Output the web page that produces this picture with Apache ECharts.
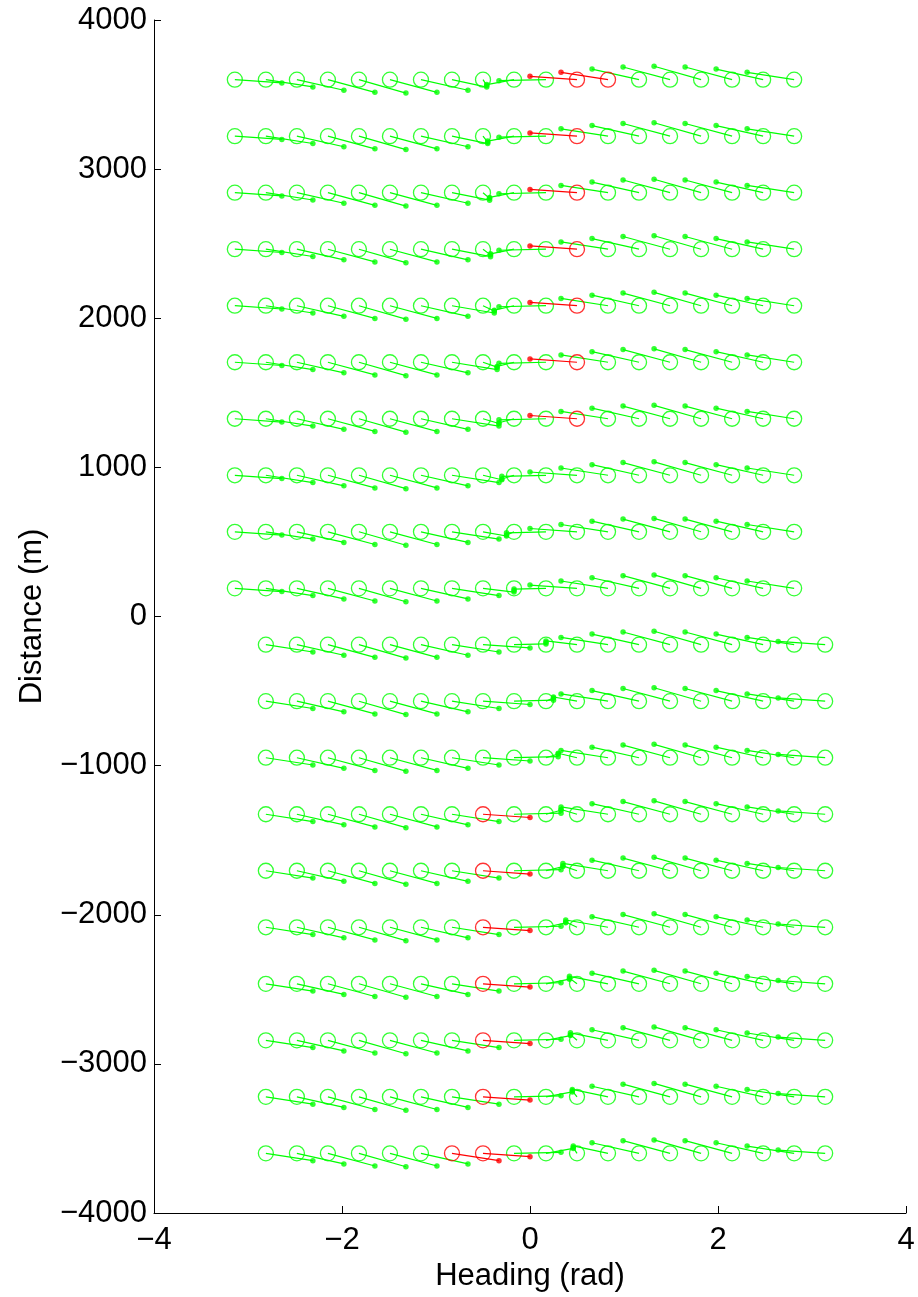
<!DOCTYPE html>
<html>
<head>
<meta charset="utf-8">
<script src="https://cdn.jsdelivr.net/npm/echarts@6/dist/echarts.min.js"></script>
<style>
html,body{margin:0;padding:0;background:#fff;}
#chart{width:918px;height:1297px;}
</style>
</head>
<body>
<div id="chart"></div>
<script>
// Circle positions (heading, rad) for rows with positive / negative distance
const headingTop = [-3.14, -2.81, -2.48, -2.15, -1.82, -1.49, -1.16, -0.83, -0.50, -0.17, 0.17, 0.50, 0.83, 1.16, 1.49, 1.82, 2.15, 2.48, 2.81];
const headingBottom = [-2.81, -2.48, -2.15, -1.82, -1.49, -1.16, -0.83, -0.50, -0.17, 0.17, 0.50, 0.83, 1.16, 1.49, 1.82, 2.15, 2.48, 2.81, 3.14];
// Row distances (m)
const distanceTop = [3600, 3221, 2842, 2463, 2084, 1705, 1326, 947, 568, 189];
const distanceBottom = [-189, -568, -947, -1326, -1705, -2084, -2463, -2842, -3221, -3600];

// Per-column heading change (rad) and distance change (m) of the dot; null = per-row value below
const turnTop  = [0.5, 0.5, 0.5, 0.5, 0.5, 0.5, 0.5, null, null, null, null, -0.5, -0.5, -0.5, -0.5, -0.5, -0.5, -0.5, -0.5];
const driftTop = [-22, -49, -71, -85, -90, -85, -71, null, null, null, null, 22, 49, 71, 85, 90, 85, 71, 49];
const turnBottom  = [0.5, 0.5, 0.5, 0.5, 0.5, 0.5, 0.5, 0.5, null, null, null, null, -0.5, -0.5, -0.5, -0.5, -0.5, -0.5, -0.5];
const driftBottom = [-49, -71, -85, -90, -85, -71, -49, -22, null, null, null, null, 71, 85, 90, 85, 71, 49, 22];

// Central columns (top: columns 7..10, bottom: columns 8..11), per row: [turn, drift]
const centerTop = [
  [[0.37, -50], [0.04, -40], [-0.29, -33], [-0.50, -7]],
  [[0.38, -50], [0.05, -40], [-0.28, -33], [-0.50, -7]],
  [[0.40, -50], [0.07, -38], [-0.26, -32], [-0.50, -7]],
  [[0.41, -50], [0.08, -38], [-0.25, -31], [-0.50, -7]],
  [[0.45, -49], [0.12, -35], [-0.21, -30], [-0.50, -7]],
  [[0.48, -49], [0.15, -33], [-0.18, -28], [-0.50, -7]],
  [[0.50, -49], [0.17, -32], [-0.16, -27], [-0.50, -7]],
  [[0.50, -49], [0.20, -30], [-0.13, -25], [-0.47, -7]],
  [[0.50, -49], [0.25, -28], [-0.08, -22], [-0.42, -7]],
  [[0.50, -49], [0.33, -25], [0.00, -15], [-0.34, -5]]
];
const centerBottom = [
  [[0.34, 5], [0.00, 15], [-0.33, 25], [-0.50, 49]],
  [[0.42, 7], [0.08, 22], [-0.25, 28], [-0.50, 49]],
  [[0.47, 7], [0.13, 25], [-0.20, 30], [-0.50, 49]],
  [[0.50, 7], [0.16, 27], [-0.17, 32], [-0.50, 49]],
  [[0.50, 7], [0.18, 28], [-0.15, 33], [-0.48, 49]],
  [[0.50, 7], [0.21, 30], [-0.12, 35], [-0.45, 49]],
  [[0.50, 7], [0.25, 31], [-0.08, 38], [-0.41, 50]],
  [[0.50, 7], [0.26, 32], [-0.07, 38], [-0.40, 50]],
  [[0.50, 7], [0.28, 33], [-0.05, 40], [-0.38, 50]],
  [[0.50, 7], [0.29, 33], [-0.04, 40], [-0.37, 50]]
];

// Highlighted (red) markers: [rowIndex, columnIndex]
const redTop = [[0, 11], [0, 12], [1, 11], [2, 11], [3, 11], [4, 11], [5, 11], [6, 11]];
const redBottom = [[3, 7], [4, 7], [5, 7], [6, 7], [7, 7], [8, 7], [9, 6], [9, 7]];

// Axis ticks
const xTicks = [-4, -2, 0, 2, 4];
const yTicks = [-4000, -3000, -2000, -1000, 0, 1000, 2000, 3000, 4000];

const GREEN = '#00ff00', RED = '#ff0000';
const gLines = [], gDots = [], gCircles = [], rLines = [], rDots = [], rCircles = [];

function isRed(list, r, c) {
  return list.some(p => p[0] === r && p[1] === c);
}
function addHalf(headings, distances, turn, drift, center, centerStart, redList) {
  distances.forEach((d, r) => {
    headings.forEach((h, c) => {
      let dh = turn[c], dd = drift[c];
      if (dh === null) {
        const p = center[r][c - centerStart];
        dh = p[0]; dd = p[1];
      }
      const end = [h + dh, d + dd];
      const red = isRed(redList, r, c);
      (red ? rLines : gLines).push({coords: [[h, d], end]});
      (red ? rDots : gDots).push(end);
      (red ? rCircles : gCircles).push([h, d]);
    });
  });
}
addHalf(headingTop, distanceTop, turnTop, driftTop, centerTop, 7, redTop);
addHalf(headingBottom, distanceBottom, turnBottom, driftBottom, centerBottom, 8, redBottom);

const FONT = "'Liberation Sans', Arial, Helvetica, sans-serif";
const minus = v => String(v).replace('-', '\u2212');

const chart = echarts.init(document.getElementById('chart'), null, {renderer: 'canvas'});
chart.setOption({
  animation: false,
  backgroundColor: '#ffffff',
  grid: {left: 154, right: 12, top: 20, bottom: 84, containLabel: false, outerBoundsMode: 'none'},
  xAxis: {
    type: 'value', min: xTicks[0], max: xTicks[xTicks.length - 1], interval: 2,
    name: 'Heading (rad)', nameLocation: 'middle', nameGap: 42,
    nameTextStyle: {fontFamily: FONT, fontSize: 31, color: '#000'},
    axisLine: {show: true, onZero: false, lineStyle: {color: '#000', width: 1}},
    axisTick: {show: true, inside: true, length: 7, lineStyle: {color: '#000'}},
    axisLabel: {fontFamily: FONT, fontSize: 31, color: '#000', margin: 12, formatter: minus},
    splitLine: {show: false}
  },
  yAxis: {
    type: 'value', min: yTicks[0], max: yTicks[yTicks.length - 1], interval: 1000,
    name: 'Distance (m)', nameLocation: 'middle', nameGap: 106, nameRotate: 90,
    nameTextStyle: {fontFamily: FONT, fontSize: 31, color: '#000'},
    axisLine: {show: true, onZero: false, lineStyle: {color: '#000', width: 1}},
    axisTick: {show: true, inside: true, length: 7, lineStyle: {color: '#000'}},
    axisLabel: {fontFamily: FONT, fontSize: 31, color: '#000', margin: 7, formatter: minus},
    splitLine: {show: false}
  },
  series: [
    {type: 'lines', coordinateSystem: 'cartesian2d', data: gLines, silent: true, z: 1,
     lineStyle: {color: GREEN, width: 1.2, opacity: 1}},
    {type: 'scatter', data: gDots, symbol: 'circle', symbolSize: 5.5, silent: true, z: 2,
     itemStyle: {color: GREEN}},
    {type: 'scatter', data: gCircles, symbol: 'circle', symbolSize: 15, silent: true, z: 3,
     itemStyle: {color: 'rgba(0,0,0,0)', borderColor: GREEN, borderWidth: 1.3}},
    {type: 'lines', coordinateSystem: 'cartesian2d', data: rLines, silent: true, z: 4,
     lineStyle: {color: RED, width: 1.2, opacity: 1}},
    {type: 'scatter', data: rDots, symbol: 'circle', symbolSize: 5.5, silent: true, z: 5,
     itemStyle: {color: RED}},
    {type: 'scatter', data: rCircles, symbol: 'circle', symbolSize: 15, silent: true, z: 6,
     itemStyle: {color: 'rgba(0,0,0,0)', borderColor: RED, borderWidth: 1.3}}
  ]
});
</script>
</body>
</html>
